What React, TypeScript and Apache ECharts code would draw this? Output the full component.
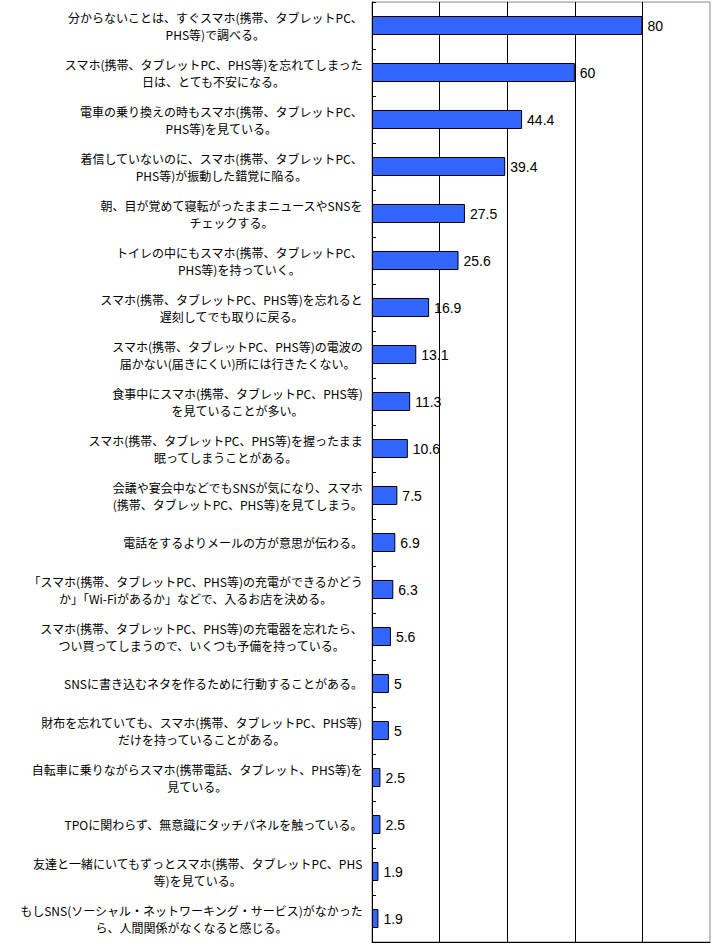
import React, { useEffect, useRef } from "react";
import * as echarts from "echarts";

const categories: string[] = [
  "分からないことは、すぐスマホ(携帯、タブレットPC、\nPHS等)で調べる。",
  "スマホ(携帯、タブレットPC、PHS等)を忘れてしまった\n日は、とても不安になる。",
  "電車の乗り換えの時もスマホ(携帯、タブレットPC、\nPHS等)を見ている。",
  "着信していないのに、スマホ(携帯、タブレットPC、\nPHS等)が振動した錯覚に陥る。",
  "朝、目が覚めて寝転がったままニュースやSNSを\nチェックする。",
  "トイレの中にもスマホ(携帯、タブレットPC、\nPHS等)を持っていく。",
  "スマホ(携帯、タブレットPC、PHS等)を忘れると\n遅刻してでも取りに戻る。",
  "スマホ(携帯、タブレットPC、PHS等)の電波の\n届かない(届きにくい)所には行きたくない。",
  "食事中にスマホ(携帯、タブレットPC、PHS等)\nを見ていることが多い。",
  "スマホ(携帯、タブレットPC、PHS等)を握ったまま\n眠ってしまうことがある。",
  "会議や宴会中などでもSNSが気になり、スマホ\n(携帯、タブレットPC、PHS等)を見てしまう。",
  "電話をするよりメールの方が意思が伝わる。",
  "「スマホ(携帯、タブレットPC、PHS等)の充電ができるかどう\nか」「Wi-Fiがあるか」などで、入るお店を決める。",
  "スマホ(携帯、タブレットPC、PHS等)の充電器を忘れたら、\nつい買ってしまうので、いくつも予備を持っている。",
  "SNSに書き込むネタを作るために行動することがある。",
  "財布を忘れていても、スマホ(携帯、タブレットPC、PHS等)\nだけを持っていることがある。",
  "自転車に乗りながらスマホ(携帯電話、タブレット、PHS等)を\n見ている。",
  "TPOに関わらず、無意識にタッチパネルを触っている。",
  "友達と一緒にいてもずっとスマホ(携帯、タブレットPC、PHS\n等)を見ている。",
  "もしSNS(ソーシャル・ネットワーキング・サービス)がなかった\nら、人間関係がなくなると感じる。",
];

const values: number[] = [80, 60, 44.4, 39.4, 27.5, 25.6, 16.9, 13.1, 11.3, 10.6, 7.5, 6.9, 6.3, 5.6, 5, 5, 2.5, 2.5, 1.9, 1.9];

export default function App() {
  const ref = useRef<HTMLDivElement>(null);
  useEffect(() => {
    if (!ref.current) return;
    const chart = echarts.init(ref.current, undefined, { renderer: "svg" });
    chart.setOption({
      animation: false,
      backgroundColor: "#ffffff",
      grid: {
        left: 372,
        right: 17,
        top: 2,
        bottom: 6,
        show: true,
        borderColor: "#888888",
        borderWidth: 1,
        containLabel: false,
      },
      xAxis: {
        type: "value",
        min: 0,
        max: 100,
        interval: 20,
        axisLabel: { show: false },
        axisTick: { show: false },
        axisLine: { show: true, lineStyle: { color: "#000", width: 1 } },
        splitLine: {
          show: true,
          showMinLine: false,
          showMaxLine: false,
          lineStyle: { color: "#000", width: 1 },
        },
      },
      yAxis: {
        type: "category",
        data: categories,
        inverse: true,
        axisLine: { show: true, lineStyle: { color: "#000", width: 1 } },
        axisTick: { show: true, inside: true, length: 4, lineStyle: { color: "#000" } },
        axisLabel: {
          align: "right",
          margin: 9,
          fontSize: 12,
          lineHeight: 17,
          color: "#000",
          fontFamily: "'Noto Sans CJK JP', sans-serif",
          formatter: (v: string) =>
            v
              .split("\n")
              .map((l) => `{c|${l}}`)
              .join("\n"),
          rich: {
            c: {
              align: "center",
              fontSize: 12,
              lineHeight: 17,
              color: "#000",
              fontFamily: "'Noto Sans CJK JP', sans-serif",
            },
          },
        },
      },
      series: [
        {
          type: "bar",
          data: values,
          barWidth: 19,
          itemStyle: { color: "#3366ff", borderColor: "#000", borderWidth: 1 },
          label: {
            show: true,
            position: "right",
            distance: 5,
            color: "#000",
            fontSize: 14,
            fontFamily: "'Liberation Sans', Arial, sans-serif",
          },
        },
      ],
    });
    return () => chart.dispose();
  }, []);
  return <div ref={ref} style={{ width: 727, height: 948, position: "absolute", left: 0, top: 0 }} />;
}
